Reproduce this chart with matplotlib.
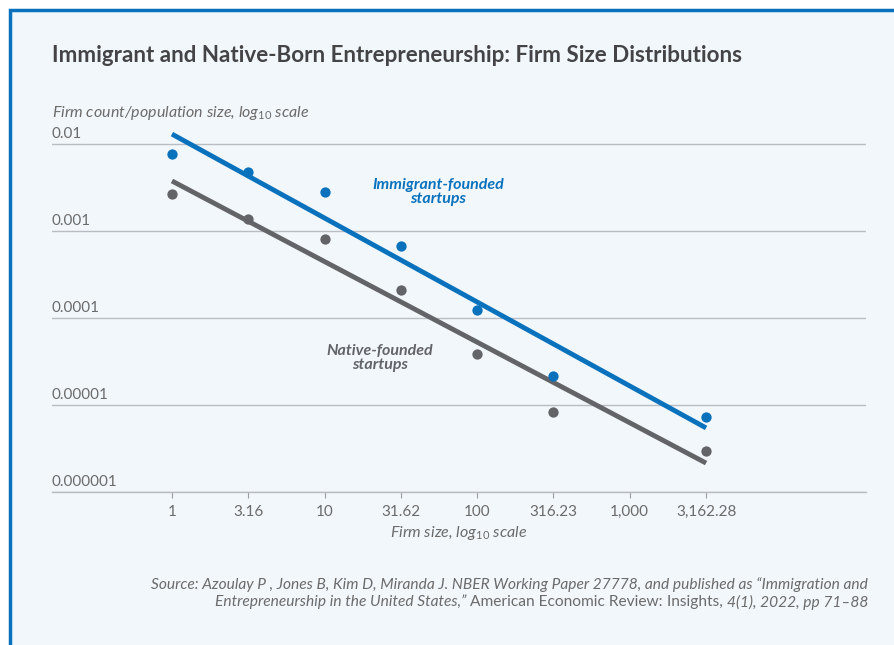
import matplotlib
matplotlib.use('Agg')
import matplotlib.pyplot as plt
from matplotlib.patches import Rectangle
from matplotlib.transforms import blended_transform_factory, offset_copy

plt.rcParams['font.family'] = ['Lato', 'DejaVu Sans']
plt.rcParams['mathtext.fontset'] = 'custom'
plt.rcParams['mathtext.rm'] = 'Lato'
plt.rcParams['mathtext.it'] = 'Lato:italic'

BLUE = '#0a72bd'
GRAY = '#636467'
TXT = '#6b6b6b'
BG = '#f2f7fb'

# firm size (x) and firm count / population size (y)
firm_size = [1, 3.16, 10, 31.62, 100, 316.23, 3162.28]
immigrant = [0.0077, 0.0048, 0.0028, 0.00067, 0.000124, 0.0000215, 0.0000073]
native = [0.00266, 0.00137, 0.00081, 0.00021, 0.0000386, 0.0000083, 0.00000296]

# fitted lines (end points)
fit_x = [1, 3162.28]
fit_immigrant = [0.0130, 0.00000545]
fit_native = [0.00376, 0.00000215]

x_ticks = [1, 3.16, 10, 31.62, 100, 316.23, 1000, 3162.28]
x_ticklabels = ['1', '3.16', '10', '31.62', '100', '316.23', '1,000', '3,162.28']
y_ticks = [0.01, 0.001, 0.0001, 0.00001, 0.000001]
y_ticklabels = ['0.01', '0.001', '0.0001', '0.00001', '0.000001']

fig = plt.figure(figsize=(8.94, 6.45), dpi=100)
fig.patch.set_facecolor('white')
fig.patches.append(Rectangle((9.5 / 894, -0.05), 1.0, 1 - 9.5 / 645 + 0.05,
                             transform=fig.transFigure, facecolor=BG,
                             edgecolor=BLUE, linewidth=2.5, zorder=-5))

ax = fig.add_axes([52 / 894, 1 - 492 / 645, (866 - 52) / 894, (492 - 126.6) / 645])
ax.set_facecolor('none')
ax.set_xscale('log')
ax.set_yscale('log')
ax.set_xlim(10 ** -0.786, 10 ** 4.548)
ax.set_ylim(1e-6, 10 ** -1.8)

ax.plot(fit_x, fit_immigrant, color=BLUE, lw=3.5, solid_capstyle='butt', zorder=3)
ax.plot(fit_x, fit_native, color=GRAY, lw=3.5, solid_capstyle='butt', zorder=3)
ax.scatter(firm_size, immigrant, s=55, color=BLUE, zorder=4, linewidths=0)
ax.scatter(firm_size, native, s=55, color=GRAY, zorder=4, linewidths=0)

for s in ['top', 'right', 'left']:
    ax.spines[s].set_visible(False)
ax.spines['bottom'].set_color('#b9bcc0')
ax.spines['bottom'].set_linewidth(1)

ax.set_yticks(y_ticks)
ax.yaxis.set_minor_locator(matplotlib.ticker.NullLocator())
ax.tick_params(axis='y', left=False, labelleft=False)
ax.grid(axis='y', which='major', color='#b9bcc0', lw=1)
trans = offset_copy(blended_transform_factory(ax.transAxes, ax.transData),
                    fig=fig, x=0, y=2, units='points')
for v, lab in zip(y_ticks, y_ticklabels):
    ax.text(0, v, lab, transform=trans, ha='left', va='bottom', fontsize=11, color=TXT)

ax.set_xticks(x_ticks)
ax.set_xticklabels(x_ticklabels)
ax.xaxis.set_minor_locator(matplotlib.ticker.NullLocator())
ax.tick_params(axis='x', length=4, color='#9a9da1', labelsize=11, labelcolor=TXT, pad=5)

ax.set_xlabel('Firm size, log$_{\\mathit{10}}$ scale', fontsize=11.5, style='italic',
              color=TXT, labelpad=4)

fig.text(438 / 894, 1 - 192 / 645, 'Immigrant-founded\nstartups', fontsize=11.5,
         style='italic', weight='bold', color=BLUE, ha='center', va='center',
         linespacing=1.0)
fig.text(380 / 894, 1 - 358 / 645, 'Native-founded\nstartups', fontsize=11.5,
         style='italic', weight='bold', color=GRAY, ha='center', va='center',
         linespacing=1.0)

fig.text(52 / 894, 1 - 55 / 645, 'Immigrant and Native-Born Entrepreneurship: Firm Size Distributions',
         fontsize=16.1, weight='bold', color='#444446', ha='left', va='center')
fig.text(52 / 894, 1 - 113 / 645, 'Firm count/population size, log$_{\\mathit{10}}$ scale',
         fontsize=11.5, style='italic', color=TXT, ha='left', va='center')

# source note
fig.text(868 / 894, 1 - 585 / 645,
         'Source: Azoulay P , Jones B, Kim D, Miranda J. NBER Working Paper 27778, and published as \u201cImmigration and',
         fontsize=11.15, style='italic', color=TXT, ha='right', va='center')
fig.canvas.draw()
r = fig.canvas.get_renderer()
parts = [('Entrepreneurship in the United States,\u201d ', 'italic'),
         ('American Economic Review: ', 'normal'),
         ('Insights, ', 'normal'),
         ('4(1), 2022, pp 71\u201388', 'italic')]
xr = 868
for txt, st in reversed(parts):
    t = fig.text(xr / 894, 1 - 602 / 645, txt, fontsize=11.15, style=st, color=TXT,
                 ha='right', va='center')
    bb = t.get_window_extent(renderer=r)
    xr = bb.x0

fig.savefig('out.png', dpi=100, facecolor=fig.get_facecolor())
